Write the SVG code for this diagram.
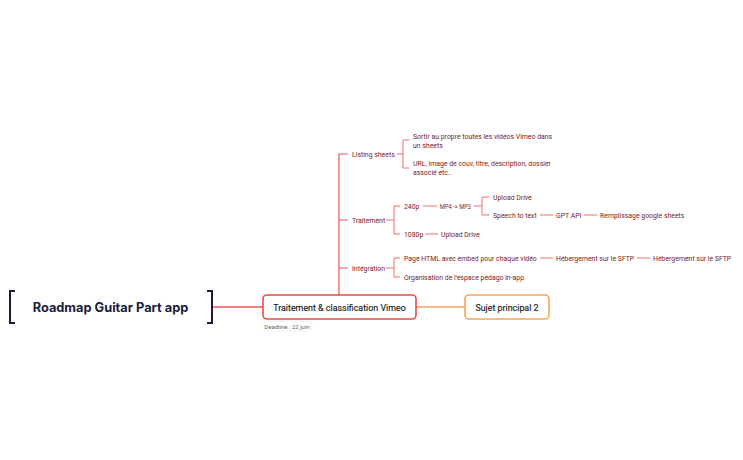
<svg xmlns="http://www.w3.org/2000/svg" width="743" height="460" viewBox="0 0 743 460">
<style>
.t{font-family:Roboto,"Liberation Sans",sans-serif;font-size:6.9px;fill:#7a1a1a;dominant-baseline:central}
.l{stroke:#f26f6f;stroke-width:1;fill:none}
.m{font-family:Roboto,"Liberation Sans",sans-serif;font-size:8.9px;fill:#1a1a1a;text-anchor:middle;dominant-baseline:central;stroke:#1a1a1a;stroke-width:0.15}
</style>
<rect width="743" height="460" fill="#fff"/>
<g id="connectors">
<path d="M212 307H263" stroke="#f05252" stroke-width="1.5" fill="none"/>
<path d="M416 307H465" stroke="#f5a55a" stroke-width="1.5" fill="none"/>
<path d="M339 295V154H348M339 220H348M339 268H348" stroke="#f05252" stroke-width="1.2" fill="none"/>
<path class="l" d="M397 154H403M403 140V168M403 140H409M403 168H409"/>
<path class="l" d="M386 220H394M394 206V234M394 206H400M394 234H400"/>
<path class="l" d="M423 206H437M474 206H482M482 197V215M482 197H489M482 215H489M540 215H553M584 215H597"/>
<path class="l" d="M425 234H438"/>
<path class="l" d="M386 268H394M394 258V277M394 258H400M394 277H400M540 258H553M637 258H650"/>
</g>
<g id="root">
<path d="M15 291H10V323H15M207 291H212V323H207" stroke="#1c1c3c" stroke-width="2" fill="none"/>
<text x="110.5" y="307.5" font-family="Inter,'Liberation Sans',sans-serif" font-size="12.8" font-weight="bold" fill="#1c1c3c" text-anchor="middle" dominant-baseline="central">Roadmap Guitar Part app</text>
</g>
<g id="main">
<rect x="263" y="295" width="153" height="24" rx="4" fill="#fff" stroke="#f04848" stroke-width="1.6"/>
<text class="m" x="339.5" y="307.5">Traitement &amp; classification Vimeo</text>
<rect x="262" y="321" width="50" height="10" rx="5" fill="#fff" stroke="#e4e4e4" stroke-width="0.6"/>
<text x="287" y="326.3" font-family="Roboto,'Liberation Sans',sans-serif" font-size="6" fill="#666" text-anchor="middle" dominant-baseline="central">Deadline : 22 juin</text>
</g>
<g id="sujet2">
<rect x="465" y="295" width="84" height="24" rx="4" fill="#fff" stroke="#f5a55a" stroke-width="1.6"/>
<text class="m" x="507" y="307.5">Sujet principal 2</text>
</g>
<g id="listing"><text class="t" x="352" y="154.7">Listing sheets</text></g>
<g id="sortir"><text class="t" x="413" y="136.7">Sortir au propre toutes les vidéos Vimeo dans</text><text class="t" x="413" y="145.7">un sheets</text></g>
<g id="url"><text class="t" x="413" y="163.7">URL, image de couv, titre, description, dossier</text><text class="t" x="413" y="172.7">associé etc..</text></g>
<g id="traitement"><text class="t" x="352" y="220.7">Traitement</text></g>
<g id="p240"><text class="t" x="404" y="206.7">240p</text></g>
<g id="mp4"><text class="t" x="440" y="206.7" textLength="31" lengthAdjust="spacingAndGlyphs">MP4 -&gt; MP3</text></g>
<g id="upload1"><text class="t" x="493" y="197.7">Upload Drive</text></g>
<g id="speech"><text class="t" x="493" y="215.7">Speech to text</text></g>
<g id="gpt"><text class="t" x="556" y="215.7">GPT API</text></g>
<g id="rempl"><text class="t" x="600" y="215.7">Remplissage google sheets</text></g>
<g id="p1080"><text class="t" x="404" y="234.7">1080p</text></g>
<g id="upload2"><text class="t" x="441" y="234.7">Upload Drive</text></g>
<g id="integration"><text class="t" x="352" y="268.7">Intégration</text></g>
<g id="page"><text class="t" x="404" y="258.7">Page HTML avec embed pour chaque vidéo</text></g>
<g id="heb1"><text class="t" x="556" y="258.7">Hébergement sur le SFTP</text></g>
<g id="heb2"><text class="t" x="653" y="258.7">Hébergement sur le SFTP</text></g>
<g id="orga"><text class="t" x="404" y="277.7">Organisation de l'espace pédago in-app</text></g>
</svg>
